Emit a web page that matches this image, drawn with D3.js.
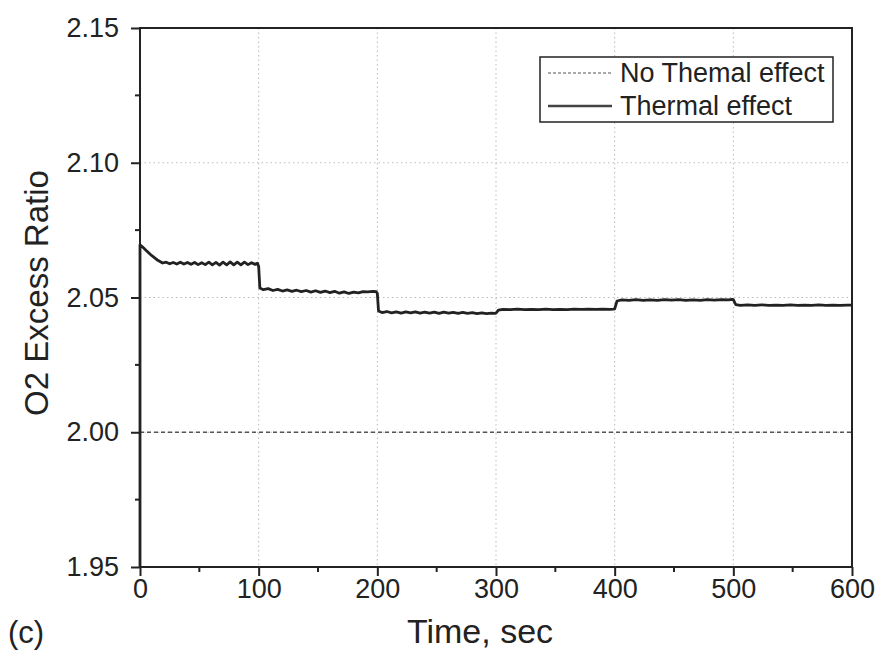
<!DOCTYPE html>
<html>
<head>
<meta charset="utf-8">
<script src="https://cdn.jsdelivr.net/npm/d3@7"></script>
<style>
  body { margin: 0; background: #fff; }
  text { font-family: Arial, "Liberation Sans", sans-serif; fill: #222; }
</style>
</head>
<body>
<div id="chart"></div>
<script>
var svgWidth = 884;
var svgHeight = 663;

var margin = { top: 28, right: 32, bottom: 96, left: 140 };
var width = svgWidth - margin.left - margin.right;
var height = svgHeight - margin.top - margin.bottom;

// axis ticks
var xTicks = [0, 100, 200, 300, 400, 500, 600];
var xMinor = [50, 150, 250, 350, 450, 550];
var yTicks = [1.95, 2.00, 2.05, 2.10, 2.15];
var yMinor = [1.975, 2.025, 2.075, 2.125];

// series: no thermal effect (constant)
var noThermal = [[0, 2.00], [600, 2.00]];

// series: thermal effect [time, ratio]
var thermal = [
  [0, 1.95], [0, 2.0695], [2, 2.0688], [5, 2.0675], [10, 2.0655], [15, 2.0638], [19, 2.0628],
  [22, 2.0631], [25, 2.0625], [28, 2.0630], [31, 2.0624], [34, 2.0631], [37, 2.0624], [40, 2.0630],
  [43, 2.0623], [46, 2.0630], [49, 2.0622], [52, 2.0629], [55, 2.0622], [58, 2.0631], [61, 2.0621],
  [64, 2.0630], [67, 2.0620], [70, 2.0631], [73, 2.0621], [76, 2.0632], [79, 2.0621], [82, 2.0631],
  [85, 2.0621], [88, 2.0631], [91, 2.0622], [94, 2.0629], [97, 2.0623], [99, 2.0627],
  [100, 2.0615], [101, 2.0535], [104, 2.0529], [108, 2.0533], [112, 2.0526], [116, 2.0530],
  [120, 2.0524], [124, 2.0528], [128, 2.0523], [132, 2.0527], [136, 2.0522], [140, 2.0526],
  [144, 2.0520], [148, 2.0525], [152, 2.0519], [156, 2.0524], [160, 2.0518], [164, 2.0523],
  [168, 2.0516], [172, 2.0521], [176, 2.0515], [180, 2.0520], [184, 2.0517], [188, 2.0522],
  [192, 2.0521], [196, 2.0523], [199, 2.0522],
  [200, 2.0515], [201, 2.0450], [204, 2.0444], [208, 2.0448], [212, 2.0443], [216, 2.0447],
  [220, 2.0442], [224, 2.0447], [228, 2.0443], [232, 2.0447], [236, 2.0442], [240, 2.0446],
  [244, 2.0442], [248, 2.0446], [252, 2.0441], [256, 2.0446], [260, 2.0442], [264, 2.0445],
  [268, 2.0441], [272, 2.0445], [276, 2.0441], [280, 2.0444], [284, 2.0440], [288, 2.0443],
  [292, 2.0440], [296, 2.0442], [299, 2.0441],
  [300, 2.0442], [302, 2.0453], [306, 2.0456], [312, 2.0455], [318, 2.0457], [324, 2.0455],
  [330, 2.0456], [336, 2.0455], [342, 2.0457], [348, 2.0455], [354, 2.0456], [360, 2.0455],
  [366, 2.0457], [372, 2.0456], [378, 2.0457], [384, 2.0456], [390, 2.0457], [396, 2.0456], [399, 2.0457],
  [400, 2.0458], [402, 2.0487], [406, 2.0491], [412, 2.0489], [418, 2.0492], [424, 2.0489],
  [430, 2.0491], [436, 2.0489], [442, 2.0492], [448, 2.0490], [454, 2.0492], [460, 2.0489],
  [466, 2.0491], [472, 2.0489], [478, 2.0492], [484, 2.0490], [490, 2.0492], [496, 2.0491], [499, 2.0493],
  [500, 2.0492], [502, 2.0474], [506, 2.0471], [512, 2.0473], [518, 2.0471], [524, 2.0473],
  [530, 2.0471], [536, 2.0472], [542, 2.0471], [548, 2.0473], [554, 2.0471], [560, 2.0472],
  [566, 2.0471], [572, 2.0473], [578, 2.0471], [584, 2.0472], [590, 2.0471], [596, 2.0472], [600, 2.0472]
];

var legendLabels = ["No Themal effect", "Thermal effect"];

var svg = d3.select("#chart")
  .append("svg")
  .attr("width", svgWidth)
  .attr("height", svgHeight);

var chartGroup = svg.append("g")
  .attr("transform", `translate(${margin.left}, ${margin.top})`);

var xScale = d3.scaleLinear().domain([0, 600]).range([0, width]);
var yScale = d3.scaleLinear().domain([1.95, 2.15]).range([height, 0]);

// dotted grid
chartGroup.append("g")
  .selectAll("line")
  .data(xTicks.slice(1, -1))
  .enter()
  .append("line")
  .attr("x1", d => xScale(d)).attr("x2", d => xScale(d))
  .attr("y1", 0).attr("y2", height)
  .attr("stroke", "#bbb")
  .attr("stroke-width", 1)
  .attr("stroke-dasharray", "1.5,3");

chartGroup.append("g")
  .selectAll("line")
  .data(yTicks.slice(1, -1))
  .enter()
  .append("line")
  .attr("x1", 0).attr("x2", width)
  .attr("y1", d => yScale(d)).attr("y2", d => yScale(d))
  .attr("stroke", "#bbb")
  .attr("stroke-width", 1)
  .attr("stroke-dasharray", "1.5,3");

// axes
var bottomAxis = d3.axisBottom(xScale).tickValues(xTicks).tickSize(9).tickPadding(3).tickFormat(d3.format("d"));
var leftAxis = d3.axisLeft(yScale).tickValues(yTicks).tickSize(9).tickPadding(12).tickFormat(d3.format(".2f"));

var xAxis = chartGroup.append("g")
  .attr("transform", `translate(0, ${height})`)
  .call(bottomAxis);

var yAxis = chartGroup.append("g").call(leftAxis);

[xAxis, yAxis].forEach(function(ax) {
  ax.select(".domain").remove();
  ax.selectAll(".tick line").attr("stroke", "#222").attr("stroke-width", 2);
  ax.selectAll(".tick text").style("font-size", "27px").attr("fill", "#222");
});

chartGroup.append("g")
  .selectAll("line")
  .data(xMinor)
  .enter()
  .append("line")
  .attr("x1", d => xScale(d)).attr("x2", d => xScale(d))
  .attr("y1", height).attr("y2", height + 5)
  .attr("stroke", "#222").attr("stroke-width", 2);

chartGroup.append("g")
  .selectAll("line")
  .data(yMinor)
  .enter()
  .append("line")
  .attr("x1", -5).attr("x2", 0)
  .attr("y1", d => yScale(d)).attr("y2", d => yScale(d))
  .attr("stroke", "#222").attr("stroke-width", 2);

// series
var line = d3.line()
  .x(d => xScale(d[0]))
  .y(d => yScale(d[1]));

chartGroup.append("path")
  .datum(noThermal)
  .attr("d", line)
  .attr("fill", "none")
  .attr("stroke", "#555")
  .attr("stroke-width", 1.6)
  .attr("stroke-dasharray", "4,3");

chartGroup.append("path")
  .datum(thermal)
  .attr("d", line)
  .attr("fill", "none")
  .attr("stroke", "#222")
  .attr("stroke-width", 2.8)
  .attr("stroke-linejoin", "round");

// frame
chartGroup.append("rect")
  .attr("x", 0).attr("y", 0)
  .attr("width", width).attr("height", height)
  .attr("fill", "none")
  .attr("stroke", "#222")
  .attr("stroke-width", 2);

// legend
var legend = chartGroup.append("g")
  .attr("transform", `translate(${540 - margin.left}, ${57 - margin.top})`);

legend.append("rect")
  .attr("width", 293).attr("height", 65)
  .attr("fill", "#fff")
  .attr("stroke", "#222")
  .attr("stroke-width", 1.5);

legendLabels.forEach(function(label, i) {
  var ly = 16 + i * 33;
  legend.append("line")
    .attr("x1", 8).attr("x2", 72)
    .attr("y1", ly).attr("y2", ly)
    .attr("stroke", i === 0 ? "#555" : "#444")
    .attr("stroke-width", i === 0 ? 1.2 : 2.5)
    .attr("stroke-dasharray", i === 0 ? "3,2" : null);
  legend.append("text")
    .attr("x", 80).attr("y", ly)
    .attr("dy", "0.35em")
    .style("font-size", "27px")
    .text(label);
});

// axis titles
svg.append("text")
  .attr("x", margin.left + width / 2 - 16)
  .attr("y", 643)
  .attr("text-anchor", "middle")
  .style("font-size", "34px")
  .text("Time, sec");

svg.append("text")
  .attr("x", 8)
  .attr("y", 643)
  .style("font-size", "31px")
  .text("(c)");

svg.append("text")
  .attr("transform", "rotate(-90)")
  .attr("x", -293)
  .attr("y", 48)
  .attr("text-anchor", "middle")
  .style("font-size", "33px")
  .text("O2 Excess Ratio");
</script>
</body>
</html>
